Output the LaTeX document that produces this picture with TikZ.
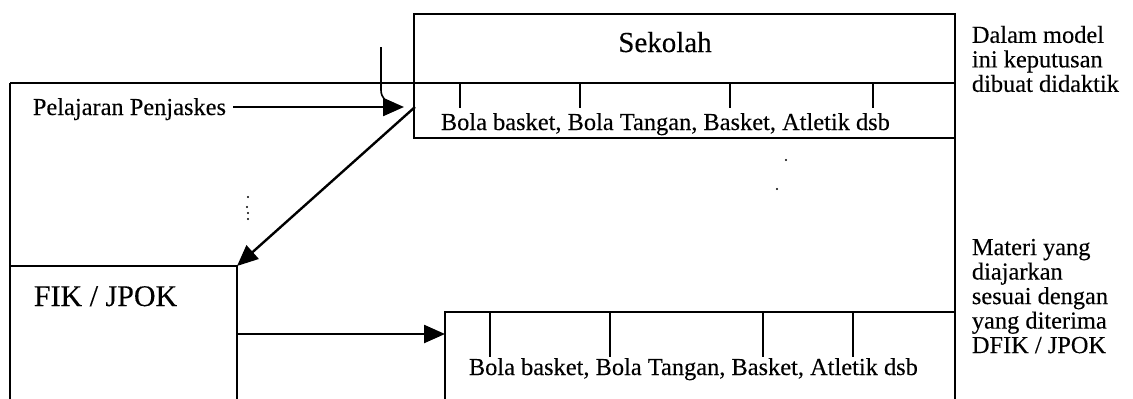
\documentclass[tikz,border=0pt]{standalone}
\usepackage{fontspec}
\setmainfont{Liberation Serif}[FakeBold=0.25]
\usetikzlibrary{arrows.meta}
\begin{document}
\begin{tikzpicture}[x=1pt,y=-1pt,line width=1.8pt,
  arr/.style={line width=2.4pt,-{Triangle[length=21pt,width=18pt]}},
  tick/.style={line width=1.6pt},
  txt/.style={inner sep=0pt,font=\fontsize{24.4}{24}\selectfont},
  big/.style={inner sep=0pt,font=\fontsize{29}{29}\selectfont},
  side/.style={inner sep=0pt,align=left,anchor=north west,font=\fontsize{24.4}{24.5}\selectfont},
  dot/.style={fill=black,circle,inner sep=0pt,minimum size=2.4pt}]
\useasboundingbox (0,0) rectangle (1133,399);
% frame coordinates
\coordinate (sTL) at (414,14);
\coordinate (sTR) at (955,14);
\coordinate (sML) at (414,83);
\coordinate (sMR) at (955,83);
\coordinate (sBL) at (414,138);
\coordinate (sBR) at (955,138);
\coordinate (fTL) at (10,83);
\coordinate (fBL) at (10,399);
\coordinate (fikL) at (10,266);
\coordinate (fik) at (237,266);
\coordinate (fikB) at (237,399);
\coordinate (bTL) at (445,312);
\coordinate (bBL) at (445,399);
\coordinate (bTR) at (955,312);
\coordinate (rB) at (955,399);
% lines
\draw (sML) -- (sTL) -- (sTR) -- (rB);
\draw (fTL) -- (sMR);
\draw (sML) -- (sBL) -- (sBR);
\draw (fTL) -- (fBL);
\draw (fikL) -- (fik) -- (fikB);
\draw (bBL) -- (bTL) -- (bTR);
% ticks
\foreach \x in {460,580,730,873} \draw[tick] (\x,83) -- (\x,108);
\foreach \x in {490,610,763,853} \draw[tick] (\x,312) -- (\x,357);
% texts
\node[big,anchor=base] (sek) at (665,52) {Sekolah};
\node[txt,anchor=base west] (bola1) at (440,130) {Bola basket, Bola Tangan, Basket, Atletik dsb};
\node[txt,anchor=base west] (bola2) at (468,375) {Bola basket, Bola Tangan, Basket, Atletik dsb};
\node[txt,anchor=base west] (pel) at (32,115) {Pelajaran Penjaskes};
\node[inner sep=0pt,font=\fontsize{30}{30}\selectfont,anchor=base west] (fiktxt) at (33,306) {FIK / JPOK};
\node[side] (note1) at (971,25) {Dalam model\\ini keputusan\\dibuat didaktik};
\node[side] (note2) at (971,238) {Materi yang\\diajarkan\\sesuai dengan\\yang diterima\\DFIK / JPOK};
% connectors
\coordinate (pelStart) at (233,107);
\coordinate (pelTip) at (404,107);
\coordinate (hookTop) at (381,47);
\coordinate (hookMid) at (381,90);
\coordinate (hookEnd) at (394,104);
\coordinate (diagStart) at (415,107);
\coordinate (hStart) at (237,334);
\coordinate (hTip) at (445,334);
\draw[arr] (pelStart) -- (pelTip);
\draw[line width=1.6pt] (hookTop) -- (hookMid) to[out=270,in=180] (hookEnd);
\draw[arr] (diagStart) -- (fik);
\draw[arr] (hStart) -- (hTip);
% scan specks
\node[dot] (d1) at (786,160) {};
\node[dot] (d2) at (777,189) {};
\node[dot] (d3) at (248,197) {};
\node[dot] (d4) at (247,207) {};
\node[dot] (d5) at (248,213) {};
\node[dot] (d6) at (248,219) {};
\end{tikzpicture}
\end{document}
